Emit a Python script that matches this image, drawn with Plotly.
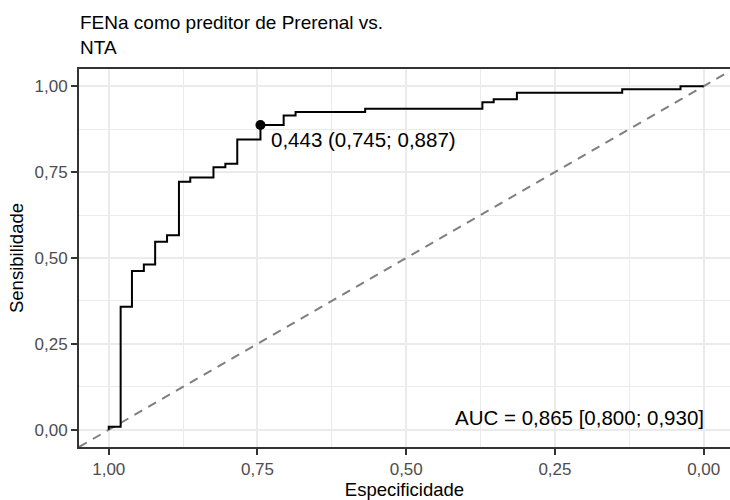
import plotly.graph_objects as go

# ROC curve vertices (specificity, sensitivity), from spec = 1 down to spec = 0
specificity = [1.000, 1.000, 0.980, 0.980, 0.961, 0.961, 0.941, 0.941, 0.922, 0.922,
               0.902, 0.902, 0.882, 0.882, 0.863, 0.863, 0.824, 0.824, 0.804, 0.804,
               0.784, 0.784, 0.745, 0.745, 0.706, 0.706, 0.686, 0.686, 0.569, 0.569,
               0.372, 0.372, 0.353, 0.353, 0.314, 0.314, 0.137, 0.137, 0.039, 0.039,
               0.000]
sensitivity = [0.000, 0.009, 0.009, 0.358, 0.358, 0.462, 0.462, 0.481, 0.481, 0.547,
               0.547, 0.566, 0.566, 0.722, 0.722, 0.734, 0.734, 0.764, 0.764, 0.774,
               0.774, 0.845, 0.845, 0.887, 0.887, 0.915, 0.915, 0.925, 0.925, 0.934,
               0.934, 0.953, 0.953, 0.962, 0.962, 0.981, 0.981, 0.991, 0.991, 1.000,
               1.000]

# best threshold (Youden) and AUC with confidence interval
best_threshold = 0.443
best_spec = 0.745
best_sens = 0.887
auc = 0.865
auc_ci = [0.800, 0.930]

# chance line
diag_spec = [1.05, -0.05]
diag_sens = [-0.05, 1.05]

tick_vals = [0.0, 0.25, 0.5, 0.75, 1.0]

FONT = "Liberation Sans, Arial, Helvetica, sans-serif"


def fmt(v):
    return f"{v:.3f}".replace(".", ",")


fig = go.Figure()

fig.add_trace(go.Scatter(
    x=diag_spec, y=diag_sens, mode="lines",
    line=dict(color="#7F7F7F", width=2, dash="9px,7px"),
    hoverinfo="skip", showlegend=False,
))

fig.add_trace(go.Scatter(
    x=specificity, y=sensitivity, mode="lines",
    line=dict(color="black", width=2),
    showlegend=False,
))

fig.add_trace(go.Scatter(
    x=[best_spec], y=[best_sens], mode="markers",
    marker=dict(color="black", size=10),
    showlegend=False,
))

fig.add_annotation(
    x=best_spec, y=best_sens, xref="x", yref="y",
    text=f"{fmt(best_threshold)} ({fmt(best_spec)}; {fmt(best_sens)})",
    showarrow=False, xanchor="left", yanchor="middle",
    xshift=9, yshift=-14,
    font=dict(family=FONT, size=20.5, color="black"),
)

fig.add_annotation(
    x=0.0, y=0.037, xref="x", yref="y",
    text=f"AUC = {fmt(auc)} [{fmt(auc_ci[0])}; {fmt(auc_ci[1])}]",
    showarrow=False, xanchor="right", yanchor="middle",
    xshift=2,
    font=dict(family=FONT, size=20.5, color="black"),
)

# plot title, left-aligned with the panel
fig.add_annotation(
    x=0, y=1, xref="paper", yref="paper",
    text="FENa como preditor de Prerenal vs.<br>NTA",
    showarrow=False, xanchor="left", yanchor="bottom", align="left",
    xshift=-1, yshift=9,
    font=dict(family=FONT, size=19, color="black"),
)

axis_common = dict(
    tickvals=tick_vals,
    tickformat=".2f",
    showgrid=True, gridcolor="#EBEBEB", gridwidth=1.6,
    minor=dict(dtick=0.125, showgrid=True, gridcolor="#EBEBEB", gridwidth=0.8),
    zeroline=False,
    showline=True, linecolor="#333333", linewidth=2,
    ticks="outside", ticklen=6, tickwidth=2, tickcolor="#333333",
    tickfont=dict(family=FONT, size=17, color="#4D4D4D"),
)

fig.update_layout(
    width=730, height=500,
    margin=dict(l=79, r=0, t=68.5, b=53),
    paper_bgcolor="white", plot_bgcolor="white",
    separators=",.",
    font=dict(family=FONT),
    xaxis=dict(
        range=[1.05, -0.0442],
        mirror=True,
        title=dict(text="Especificidade", standoff=2,
                   font=dict(family=FONT, size=18.5, color="black")),
        **axis_common,
    ),
    yaxis=dict(
        range=[-0.05, 1.05],
        title=dict(text="Sensibilidade", standoff=6,
                   font=dict(family=FONT, size=18.5, color="black")),
        **axis_common,
    ),
)

fig.write_html("out.html")
